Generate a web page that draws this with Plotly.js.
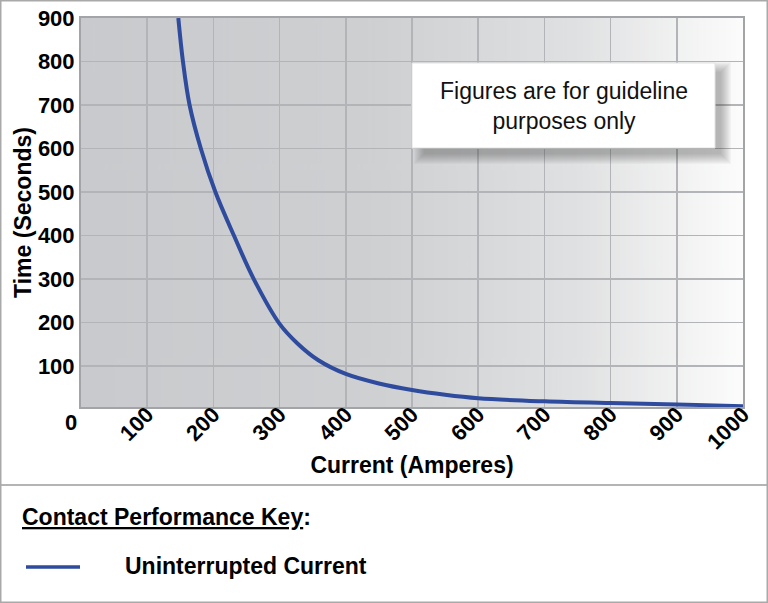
<!DOCTYPE html>
<html>
<head>
<meta charset="utf-8">
<script src="https://cdn.plot.ly/plotly-3.0.1.min.js"></script>
<style>
  html, body { margin: 0; padding: 0; background: #fff; }
  #chart { width: 768px; height: 603px; }
</style>
</head>
<body>
<div id="chart"></div>
<script>
// values
var currentAmps = [147, 154, 164, 181, 203, 231, 261, 300, 327, 358, 400, 450, 500, 550, 600, 700, 800, 900, 1000];
var timeSeconds = [900, 800, 700, 600, 500, 400, 300, 197, 152, 114, 82, 60, 45, 34, 26, 19, 15, 12, 8];

var xTicks = [100, 200, 300, 400, 500, 600, 700, 800, 900, 1000];
var yTicks = [100, 200, 300, 400, 500, 600, 700, 800, 900];

var seriesName = "Uninterrupted Current";
var keyTitle = "Contact Performance Key";
var noteText = "Figures are for guideline<br>purposes only";

var W = 768, H = 603;
var M = {l: 81, r: 25, t: 18, b: 196};
var PW = W - M.l - M.r, PH = H - M.t - M.b;
var blue = "#2e4b9d";
var font = "Liberation Sans, Arial, sans-serif";

// pixel -> paper coords
function px(x) { return (x - M.l) / PW; }
function py(y) { return 1 - (y - M.t) / PH; }

// horizontal grey -> white background
function gradientImage() {
  var c = document.createElement("canvas");
  c.width = 400; c.height = 4;
  var ctx = c.getContext("2d");
  var g = ctx.createLinearGradient(0, 0, 400, 0);
  g.addColorStop(0, "#c9cacd");
  g.addColorStop(0.45, "#cfd0d2");
  g.addColorStop(0.75, "#e0e1e2");
  g.addColorStop(1, "#fcfcfc");
  ctx.fillStyle = g;
  ctx.fillRect(0, 0, 400, 4);
  return c.toDataURL("image/png");
}

var trace = {
  x: currentAmps,
  y: timeSeconds,
  type: "scatter",
  mode: "lines",
  name: seriesName,
  line: {color: blue, width: 4, shape: "spline", smoothing: 1},
  showlegend: false,
  hoverinfo: "x+y"
};

var shapes = [];
// soft drop shadow under the note box
for (var s = 10; s >= 0; s--) {
  shapes.push({type: "rect", xref: "paper", yref: "paper",
    x0: px(424 - s), x1: px(721 + s), y0: py(154 + s), y1: py(72 - s),
    line: {width: 0}, fillcolor: "rgba(50,50,55,0.035)", layer: "above"});
}
// note box
shapes.push({type: "rect", xref: "paper", yref: "paper",
  x0: px(412), x1: px(715), y0: py(148), y1: py(63),
  line: {color: "#e2e2e2", width: 1}, fillcolor: "#ffffff", layer: "above"});
// separator above key
shapes.push({type: "line", xref: "paper", yref: "paper",
  x0: px(0), x1: px(768), y0: py(485), y1: py(485),
  line: {color: "#b4b4b4", width: 2}});
// outer frame
shapes.push({type: "rect", xref: "paper", yref: "paper",
  x0: px(0.75), x1: px(767.25), y0: py(602.25), y1: py(0.75),
  line: {color: "#a9a9a9", width: 1.5}});
// key line sample
shapes.push({type: "line", xref: "paper", yref: "paper",
  x0: px(26), x1: px(80), y0: py(567), y1: py(567),
  line: {color: blue, width: 3.5}});

var boldFont = {family: font, size: 23, color: "#000", weight: 700};

var annotations = [
  {xref: "paper", yref: "paper", x: px(563.5), y: py(106), text: noteText,
   showarrow: false, align: "center", xanchor: "center", yanchor: "middle",
   font: {family: font, size: 23, color: "#111"}},
  {xref: "paper", yref: "paper", x: px(71), y: py(422), text: "0",
   showarrow: false, xanchor: "center", yanchor: "middle",
   font: {family: font, size: 22, color: "#000", weight: 700}},
  {xref: "paper", yref: "paper", x: px(20), y: py(517), text: "<u>" + keyTitle + "</u>:",
   showarrow: false, xanchor: "left", yanchor: "middle", font: boldFont},
  {xref: "paper", yref: "paper", x: px(123), y: py(566), text: seriesName,
   showarrow: false, xanchor: "left", yanchor: "middle", font: boldFont}
];

var layout = {
  width: W, height: H,
  margin: M,
  paper_bgcolor: "#ffffff",
  plot_bgcolor: "rgba(0,0,0,0)",
  font: {family: font, color: "#000"},
  xaxis: {
    range: [0, 1000],
    tickvals: xTicks,
    ticktext: xTicks.map(String),
    tickangle: -45,
    ticklabelstandoff: -16,
    tickfont: {family: font, size: 22, color: "#000", weight: 700},
    showgrid: true, gridcolor: "#b3b4b7", gridwidth: 1.5,
    showline: true, linecolor: "#a3a4a7", linewidth: 2, mirror: true,
    zeroline: false, ticks: "",
    title: {text: "Current (Amperes)", font: boldFont, standoff: 4}
  },
  yaxis: {
    range: [6, 900],
    tickvals: yTicks,
    ticktext: yTicks.map(String),
    tickfont: {family: font, size: 22, color: "#000", weight: 700},
    showgrid: true, gridcolor: "#b3b4b7", gridwidth: 1.5,
    showline: true, linecolor: "#a3a4a7", linewidth: 2, mirror: true,
    zeroline: false, ticks: "",
    title: {text: "Time (Seconds)", font: boldFont, standoff: 0}
  },
  images: [{
    source: gradientImage(),
    xref: "x", yref: "y", x: 0, y: 900, sizex: 1000, sizey: 894,
    sizing: "stretch", xanchor: "left", yanchor: "top", layer: "below"
  }],
  shapes: shapes,
  annotations: annotations
};

Plotly.newPlot("chart", [trace], layout, {displayModeBar: false, staticPlot: true});
</script>
</body>
</html>
